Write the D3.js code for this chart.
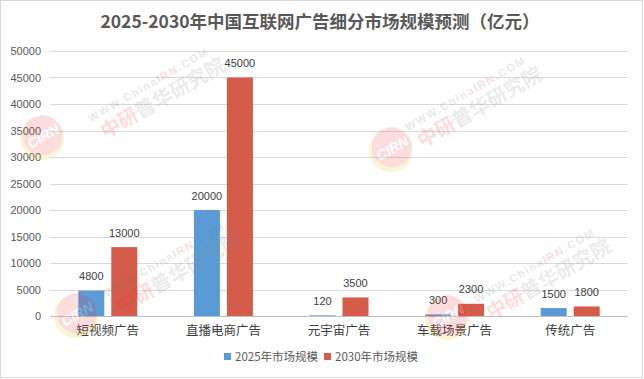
<!DOCTYPE html>
<html>
<head>
<meta charset="utf-8">
<script src="https://cdn.jsdelivr.net/npm/d3@7/dist/d3.min.js"></script>
<style>
  body { margin: 0; background: #fff; }
  svg { display: block; }
</style>
</head>
<body>
<div class="chart"></div>
<script>
// chart data
var categories = ["短视频广告", "直播电商广告", "元宇宙广告", "车载场景广告", "传统广告"];
var seriesNames = ["2025年市场规模", "2030年市场规模"];
var values2025 = [4800, 20000, 120, 300, 1500];
var values2030 = [13000, 45000, 3500, 2300, 1800];
var yTicks = [0, 5000, 10000, 15000, 20000, 25000, 30000, 35000, 40000, 45000, 50000];
var colors = ["#5b9bd5", "#d55b4a"];

var svgWidth = 644;
var svgHeight = 379;
var margin = { top: 51, right: 16, bottom: 63, left: 50 };
var width = svgWidth - margin.left - margin.right;
var height = svgHeight - margin.top - margin.bottom;

var svg = d3.select(".chart")
  .append("svg")
  .attr("width", svgWidth)
  .attr("height", svgHeight);

// outer border
svg.append("rect")
  .attr("x", 0.5).attr("y", 0.5)
  .attr("width", 642).attr("height", 377)
  .attr("fill", "#fff")
  .attr("stroke", "#d9d9d9");

var chart = svg.append("g")
  .attr("transform", "translate(" + margin.left + "," + margin.top + ")");

var x0 = d3.scaleBand().domain(categories).range([0, width]).paddingInner(0).paddingOuter(0);
var x1 = d3.scaleBand().domain(seriesNames).range([x0.bandwidth() / 2 - 29.5, x0.bandwidth() / 2 + 29.5]).paddingInner(0.212).paddingOuter(0);
var y = d3.scaleLinear().domain([0, 50000]).range([height, 0]);

// gridlines
chart.append("g")
  .selectAll("line")
  .data(yTicks)
  .enter()
  .append("line")
  .attr("x1", 0).attr("x2", width)
  .attr("y1", function(d) { return Math.round(y(d)) + 0.5; })
  .attr("y2", function(d) { return Math.round(y(d)) + 0.5; })
  .attr("stroke", function(d) { return d === 0 ? "#bfbfbf" : "#d9d9d9"; })
  .attr("stroke-width", 1);

// y axis labels
var leftAxis = d3.axisLeft(y).tickValues(yTicks).tickFormat(d3.format("d")).tickSize(0).tickPadding(9);
var yAxis = chart.append("g").call(leftAxis);
yAxis.select(".domain").remove();
yAxis.selectAll("text")
  .style("font-family", "Liberation Sans")
  .style("font-size", "11px")
  .attr("fill", "#595959");

// bars
var data = categories.map(function(c, i) {
  return { cat: c, vals: [values2025[i], values2030[i]] };
});

var groups = chart.selectAll(".grp")
  .data(data)
  .enter()
  .append("g")
  .attr("class", "grp")
  .attr("transform", function(d) { return "translate(" + x0(d.cat) + ",0)"; });

groups.selectAll("rect")
  .data(function(d) { return d.vals.map(function(v, j) { return { name: seriesNames[j], v: v, j: j }; }); })
  .enter()
  .append("rect")
  .attr("x", function(d) { return x1(d.name); })
  .attr("width", x1.bandwidth())
  .attr("y", function(d) { return y(d.v); })
  .attr("height", function(d) { return height - y(d.v); })
  .attr("fill", function(d) { return colors[d.j]; });

groups.selectAll(".val")
  .data(function(d) { return d.vals.map(function(v, j) { return { name: seriesNames[j], v: v }; }); })
  .enter()
  .append("text")
  .attr("class", "val")
  .attr("x", function(d) { return x1(d.name) + x1.bandwidth() / 2; })
  .attr("y", function(d) { return y(d.v) - 10.5; })
  .attr("text-anchor", "middle")
  .style("font-family", "Liberation Sans")
  .style("font-size", "11px")
  .attr("fill", "#404040")
  .text(function(d) { return d.v; });

// x axis labels
var bottomAxis = d3.axisBottom(x0).tickSize(0).tickPadding(10);
var xAxis = chart.append("g")
  .attr("transform", "translate(0," + height + ")")
  .call(bottomAxis);
xAxis.select(".domain").remove();
xAxis.selectAll("text")
  .style("font-family", "Noto Sans CJK SC")
  .style("font-size", "12.5px")
  .attr("fill", "#404040");

// title
svg.append("text")
  .attr("x", 320)
  .attr("y", 28)
  .attr("text-anchor", "middle")
  .style("font-family", "Noto Sans CJK SC")
  .style("font-weight", "bold")
  .style("font-size", "17.5px")
  .attr("fill", "#595959")
  .text("2025-2030年中国互联网广告细分市场规模预测（亿元）");

// legend
var legendX = [224, 324];
var legend = svg.append("g");
seriesNames.forEach(function(name, i) {
  legend.append("rect")
    .attr("x", legendX[i]).attr("y", 353)
    .attr("width", 7).attr("height", 7)
    .attr("fill", colors[i]);
  legend.append("text")
    .attr("x", legendX[i] + 11).attr("y", 361)
    .style("font-family", "Noto Sans CJK SC")
    .style("font-size", "11.5px")
    .attr("fill", "#595959")
    .text(name);
});

// faint watermark drawn on top
function watermark(lx, ly, tx, ty) {
  var g = svg.append("g").attr("opacity", 0.16).style("pointer-events", "none");
  var logo = g.append("g").attr("transform", "translate(" + lx + "," + ly + ") rotate(-30)");
  logo.append("circle").attr("r", 22).attr("fill", "#f2c400");
  logo.append("circle").attr("cx", 2).attr("cy", -2).attr("r", 20).attr("fill", "#e8333a");
  logo.append("text").attr("x", 2).attr("y", 4).attr("text-anchor", "middle")
    .style("font-family", "Liberation Sans").style("font-weight", "bold").style("font-style", "italic")
    .style("font-size", "14px").attr("fill", "#fff").text("CIRN");
  var t = g.append("g").attr("transform", "translate(" + tx + "," + ty + ") rotate(-30)");
  var line1 = t.append("text").attr("x", 0).attr("y", -2)
    .style("font-family", "Liberation Sans").style("font-weight", "bold")
    .style("font-size", "11px").style("letter-spacing", "1.6px").attr("fill", "#777");
  line1.append("tspan").text("WWW.China");
  line1.append("tspan").attr("fill", "#e8333a").text("IRN");
  line1.append("tspan").text(".COM");
  var line2 = t.append("text").attr("x", 4).attr("y", 20)
    .style("font-family", "Noto Sans CJK SC").style("font-weight", "bold")
    .style("font-size", "20px").attr("fill", "#8a8a8a");
  line2.append("tspan").attr("fill", "#e8333a").text("中研");
  line2.append("tspan").text("普华研究院");
}
watermark(42, 138, 92, 124);
watermark(76, 316, 108, 299);
watermark(391, 150, 409, 133);
watermark(447, 318, 478, 305);
</script>
</body>
</html>
